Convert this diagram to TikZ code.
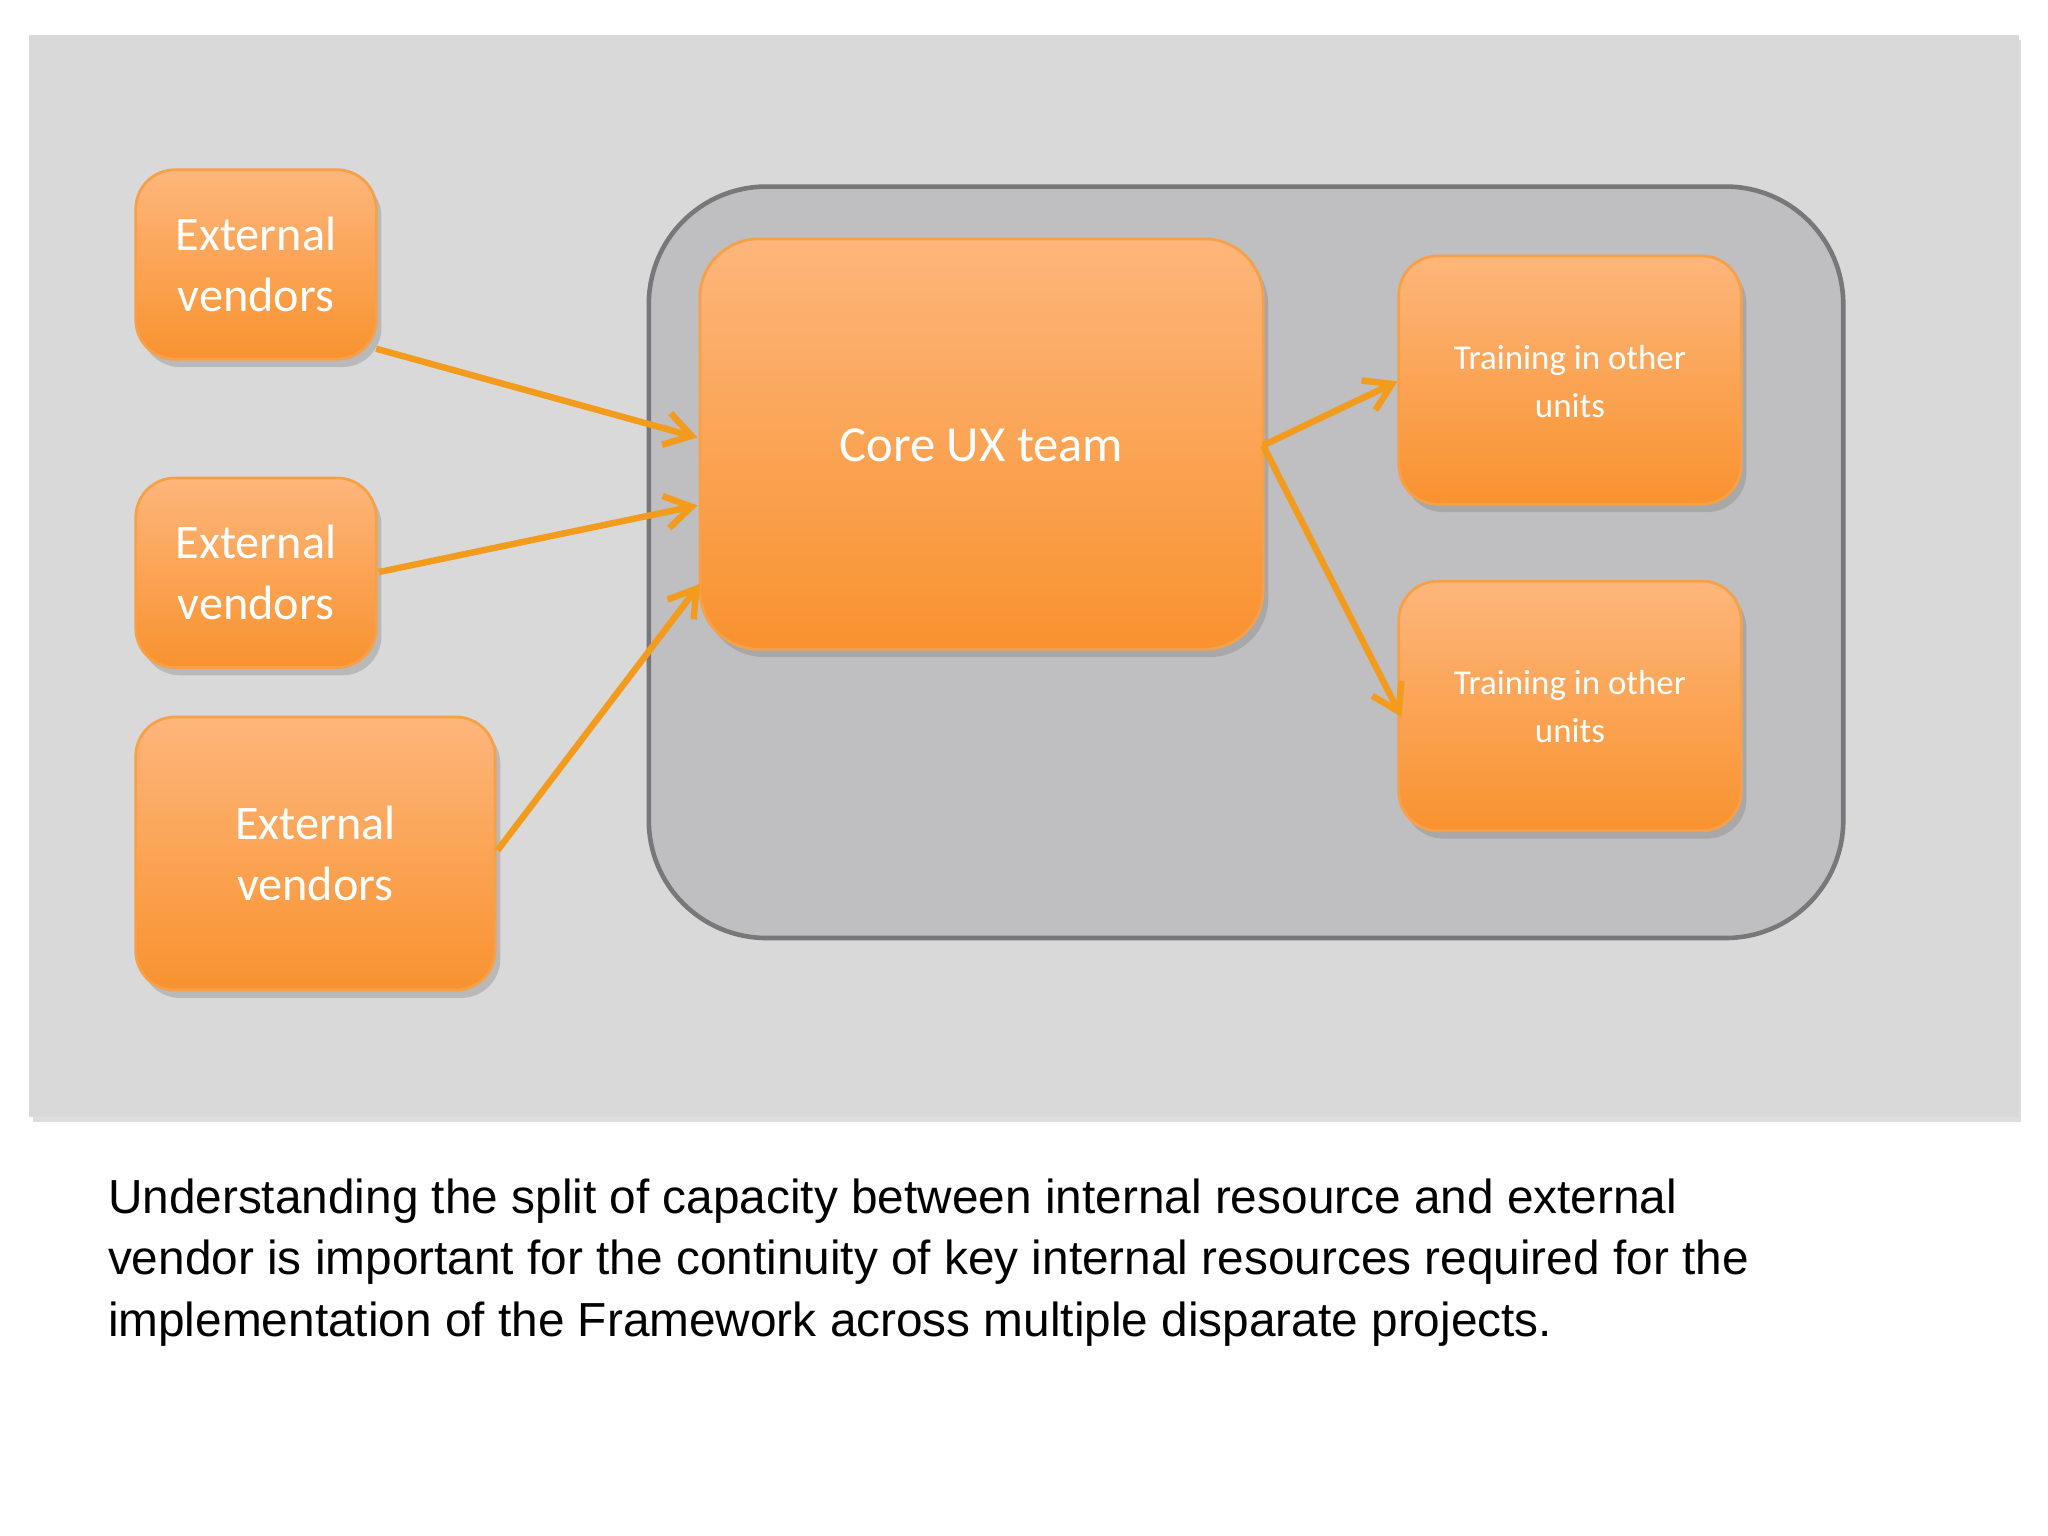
\documentclass[tikz,border=0pt]{standalone}
\usepackage{fontspec}
\setmainfont{Liberation Sans}
\newfontfamily\calfont{Carlito}
\usetikzlibrary{shadows,arrows.meta}
\definecolor{otop}{HTML}{FDB67B}
\definecolor{obot}{HTML}{F9922F}
\definecolor{obord}{HTML}{F7A04A}
\definecolor{arr}{HTML}{F29B1C}
\begin{document}
\begin{tikzpicture}[x=0.01cm,y=-0.01cm,
  box/.style={draw=obord,line width=0.6pt,top color=otop,bottom color=obot,rounded corners=0.3cm,
    text=white,align=center,font=\calfont\fontsize{10.5}{13.3}\selectfont,
    drop shadow={opacity=0.35,shadow xshift=0.04cm,shadow yshift=-0.06cm}},
  tbox/.style={box,font=\calfont\fontsize{7.6}{10.5}\selectfont},
  ar/.style={draw=arr,line width=1.4pt,-{Straight Barb[length=0.2cm,width=0.25cm]}}]
\useasboundingbox (0,0) rectangle (1568,1176);
\fill[white] (0,0) rectangle (1568,1176);
\fill[black!25,opacity=0.5] (25,31) rectangle (1547,859);
\node[fill={rgb,255:red,217;green,217;blue,218},minimum width=15.22cm,minimum height=8.28cm,inner sep=0] (bg) at (784,441) {};
\node[draw={rgb,255:red,120;green,120;blue,122},line width=1pt,fill={rgb,255:red,191;green,190;blue,192},rounded corners=0.9cm,minimum width=9.14cm,minimum height=5.75cm,inner sep=0] (cont) at (954,430.5) {};
\node[box,minimum width=4.31cm,minimum height=3.14cm,inner sep=0,rounded corners=0.45cm] (core) at (751.5,340) {};
\node[text=white,font=\calfont\fontsize{11}{13}\selectfont] (coret) at (751.5,341) {Core UX team};
\node[tbox,minimum width=2.62cm,minimum height=1.9cm,inner sep=0] (t1) at (1202,291) {};
\node[text=white,align=center,font=\calfont\fontsize{7.6}{10.5}\selectfont] (t1t) at (1202,292) {Training in other\\units};
\node[tbox,minimum width=2.62cm,minimum height=1.91cm,inner sep=0] (t2) at (1202,540.5) {};
\node[text=white,align=center,font=\calfont\fontsize{7.6}{10.5}\selectfont] (t2t) at (1202,541) {Training in other\\units};
\node[box,minimum width=1.84cm,minimum height=1.45cm,inner sep=0] (v1) at (196,202.5) {External\\vendors};
\node[box,minimum width=1.84cm,minimum height=1.45cm,inner sep=0] (v2) at (196,438.5) {External\\vendors};
\node[box,minimum width=2.75cm,minimum height=2.09cm,inner sep=0] (v3) at (241.5,653.5) {External\\vendors};
\coordinate (a1) at (288,267); \coordinate (b1) at (534,335);
\coordinate (a2) at (290,438); \coordinate (b2) at (534,387);
\coordinate (a3) at (381,651); \coordinate (b3) at (536,447);
\coordinate (c) at (967,341);
\coordinate (d1) at (1070,292); \coordinate (d2) at (1073,549);
\draw[ar] (a1) -- (b1);
\draw[ar] (a2) -- (b2);
\draw[ar] (a3) -- (b3);
\draw[ar] (c) -- (d1);
\draw[ar] (c) -- (d2);
\node[anchor=north west,align=left,inner sep=0,font=\fontsize{10.4}{13.35}\selectfont] (cap) at (82,902) {Understanding the split of capacity between internal resource and external\\vendor is important for the continuity of key internal resources required for the\\implementation of the Framework across multiple disparate projects.};
\end{tikzpicture}
\end{document}
